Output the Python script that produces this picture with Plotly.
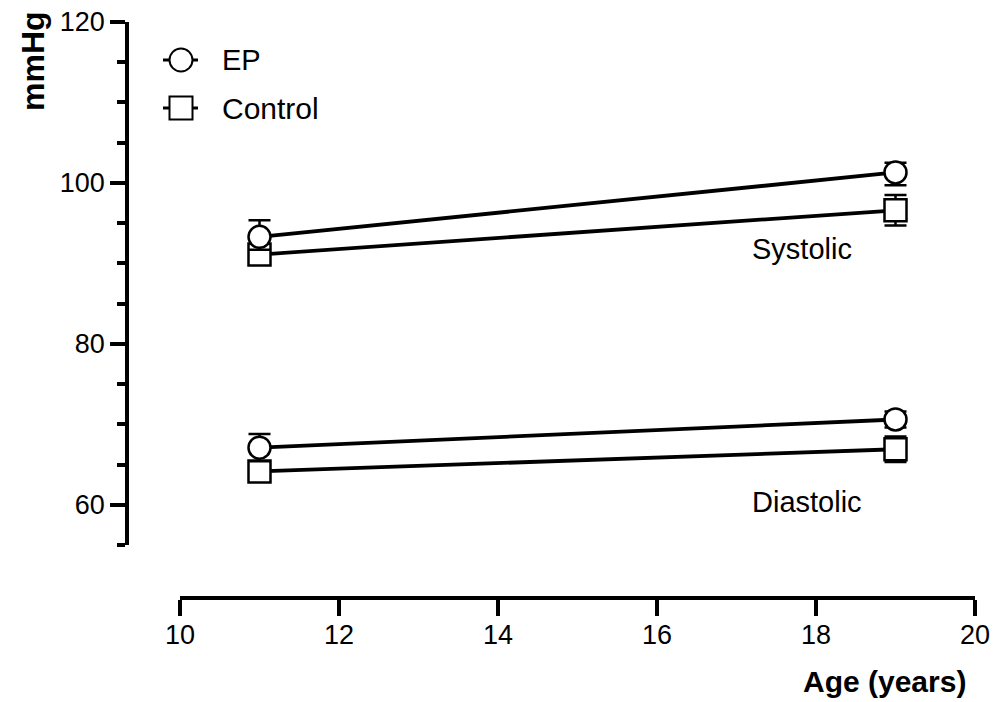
import plotly.graph_objects as go

# Blood pressure by age, EP vs Control
ages = [11, 19]

ep_systolic = [93.3, 101.3]
ep_systolic_err_up = [2.05, 1.2]
ep_systolic_err_down = [1.6, 1.6]
ctrl_systolic = [91.1, 96.6]
ctrl_systolic_err = [1.0, 1.9]

ep_diastolic = [67.1, 70.6]
ep_diastolic_err = [1.7, 1.0]
ctrl_diastolic = [64.15, 66.9]
ctrl_diastolic_err = [1.0, 1.6]

y_ticks = [60, 80, 100, 120]
x_ticks = [10, 12, 14, 16, 18, 20]

FONT = "Liberation Sans, Arial, Helvetica, sans-serif"
BLACK = "#000000"

W, H = 995, 702
ML, MR, MT, MB = 127, 20, 22, 104
PW, PH = W - ML - MR, H - MT - MB


def px(x):
    return (x - ML) / PW


def py(y):
    return (H - MB - y) / PH


fig = go.Figure()


def add_group(series, symbol):
    # connecting lines and error bars first, symbols drawn over them
    for y, up, down in series:
        fig.add_trace(go.Scatter(
            x=ages, y=y, mode="lines",
            line=dict(color=BLACK, width=3.8),
            error_y=dict(type="data", array=up, arrayminus=down,
                         symmetric=False, visible=True,
                         color=BLACK, thickness=2.5, width=11),
            showlegend=False, cliponaxis=False, hoverinfo="skip",
        ))
    for y, up, down in series:
        fig.add_trace(go.Scatter(
            x=ages, y=y, mode="markers",
            marker=dict(symbol=symbol, size=22, color="white",
                        line=dict(color=BLACK, width=2.5)),
            showlegend=False, cliponaxis=False,
        ))


# Control first so the EP group sits on top
add_group([(ctrl_systolic, ctrl_systolic_err, ctrl_systolic_err),
           (ctrl_diastolic, ctrl_diastolic_err, ctrl_diastolic_err)],
          "square")
add_group([(ep_systolic, ep_systolic_err_up, ep_systolic_err_down),
           (ep_diastolic, ep_diastolic_err, ep_diastolic_err)],
          "circle")

# Hand-drawn legend keys
shapes = []
for cy, kind in [(60, "circle"), (108, "rect")]:
    shapes.append(dict(type="line", xref="paper", yref="paper",
                       x0=px(163), x1=px(198), y0=py(cy), y1=py(cy),
                       line=dict(color=BLACK, width=3)))
    shapes.append(dict(type=kind, xref="paper", yref="paper",
                       x0=px(181 - 11.5), x1=px(181 + 11.5),
                       y0=py(cy + 11.5), y1=py(cy - 11.5),
                       fillcolor="white", line=dict(color=BLACK, width=2)))

LABEL = dict(size=29, family=FONT, color=BLACK)
annotations = [
    dict(text="EP", xref="paper", yref="paper", x=px(220), y=py(60),
         xanchor="left", yanchor="middle", showarrow=False, font=LABEL),
    dict(text="Control", xref="paper", yref="paper", x=px(220), y=py(108),
         xanchor="left", yanchor="middle", showarrow=False,
         font=dict(size=30, family=FONT, color=BLACK)),
    dict(text="Systolic", xref="x", yref="y", x=17.17, y=91.8,
         xanchor="left", yanchor="middle", showarrow=False, font=LABEL),
    dict(text="Diastolic", xref="x", yref="y", x=17.17, y=60.35,
         xanchor="left", yanchor="middle", showarrow=False, font=LABEL),
    dict(text="<b>Age (years)</b>", xref="paper", yref="paper",
         x=px(801), y=py(681), xanchor="left", yanchor="middle",
         showarrow=False, font=dict(size=30, family=FONT, color=BLACK)),
    dict(text="<b>mmHg</b>", xref="paper", yref="paper",
         x=px(33), y=py(61), xanchor="center", yanchor="middle",
         textangle=-90, showarrow=False,
         font=dict(size=32, family=FONT, color=BLACK)),
]

fig.update_layout(
    width=W, height=H,
    margin=dict(l=ML, r=MR, t=MT, b=MB, autoexpand=False),
    paper_bgcolor="white", plot_bgcolor="white",
    font=dict(family=FONT, size=26, color=BLACK),
    shapes=shapes, annotations=annotations,
    xaxis=dict(
        range=[10, 20], domain=[px(180), 1], anchor="free", position=0,
        tickvals=x_ticks, ticks="outside", ticklen=16, tickwidth=3.5,
        tickcolor=BLACK, showline=True, linewidth=3.5, linecolor=BLACK,
        showgrid=False, zeroline=False, automargin=False,
        ticklabelstandoff=-4,
        tickfont=dict(size=27, family=FONT, color=BLACK),
    ),
    yaxis=dict(
        range=[55, 120], domain=[py(545), 1], anchor="free", position=0,
        tickvals=y_ticks, ticks="outside", ticklen=15, tickwidth=3.5,
        tickcolor=BLACK, showline=True, linewidth=3.5, linecolor=BLACK,
        showgrid=False, zeroline=False, automargin=False,
        tickfont=dict(size=27, family=FONT, color=BLACK),
        minor=dict(dtick=5, tick0=0, ticks="outside", ticklen=8,
                   tickwidth=3.5, tickcolor=BLACK, showgrid=False),
    ),
)

fig.write_html("out.html")
